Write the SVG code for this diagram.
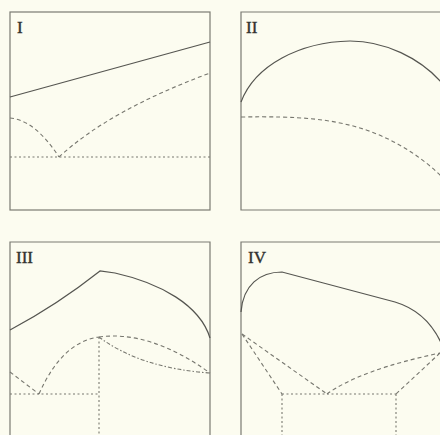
<svg xmlns="http://www.w3.org/2000/svg" width="440" height="435" viewBox="0 0 440 435">
<style>
.frame{fill:none;stroke:#7a7a72;stroke-width:1.2}
.solid{fill:none;stroke:#555550;stroke-width:1.2}
.dash{fill:none;stroke:#77776f;stroke-width:1.1;stroke-dasharray:4 3}
.dot{fill:none;stroke:#77776f;stroke-width:1.1;stroke-dasharray:2 2.5}
.dashdot{fill:none;stroke:#77776f;stroke-width:1.1;stroke-dasharray:4 2 1.5 2}
.lbl{font-family:"Liberation Serif",serif;font-size:17px;fill:#333330;stroke:#333330;stroke-width:0.4}
</style>
<rect x="0" y="0" width="440" height="435" fill="#fcfcf0"/>
<g id="panel-I">
<rect class="frame" x="10" y="12" width="200" height="198"/>
<text class="lbl" x="17" y="33">I</text>
<line class="solid" x1="10" y1="97" x2="210" y2="42"/>
<path class="dash" d="M10,118 Q35,120 59,157"/>
<path class="dash" d="M59,157 Q110,110 210,73"/>
<line class="dot" x1="10" y1="157" x2="210" y2="157"/>
</g>
<g id="panel-II">
<path class="frame" d="M442,12 L241,12 L241,210 L442,210"/>
<text class="lbl" x="246" y="33">II</text>
<path class="solid" d="M241,102 C255,65 300,42 350,41 C385,41 420,58 442,83"/>
<path class="dash" d="M241,117 C300,116 330,119 360,128 S420,155 442,177"/>
</g>
<g id="panel-III">
<path class="frame" d="M10,440 L10,242 L210,242 L210,440"/>
<text class="lbl" x="16" y="263">III</text>
<path class="solid" d="M10,330 Q57,305 100,271 L115,273 C160,283 200,305 210,338"/>
<line class="dash" x1="10" y1="372" x2="39" y2="394"/>
<path class="dash" d="M39,394 Q62,342 99,337"/>
<path class="dash" d="M99,337 Q150,330 210,373"/>
<path class="dashdot" d="M99,337 Q140,368 210,373"/>
<line class="dot" x1="10" y1="394" x2="99" y2="394"/>
<line class="dot" x1="99" y1="337" x2="99" y2="435"/>
</g>
<g id="panel-IV">
<path class="frame" d="M241,440 L241,242 L442,242"/>
<text class="lbl" x="248" y="263">IV</text>
<path class="solid" d="M241,312 C243,285 260,272 282,272 L395,302 C415,308 432,322 442,345"/>
<line class="dash" x1="242" y1="334" x2="282" y2="394"/>
<line class="dash" x1="242" y1="334" x2="327" y2="394"/>
<line class="dash" x1="440" y1="353" x2="396" y2="394"/>
<path class="dash" d="M327,394 Q360,370 440,353"/>
<line class="dot" x1="282" y1="394" x2="396" y2="394"/>
<line class="dot" x1="282" y1="394" x2="282" y2="435"/>
<line class="dot" x1="396" y1="394" x2="396" y2="435"/>
</g>
</svg>
